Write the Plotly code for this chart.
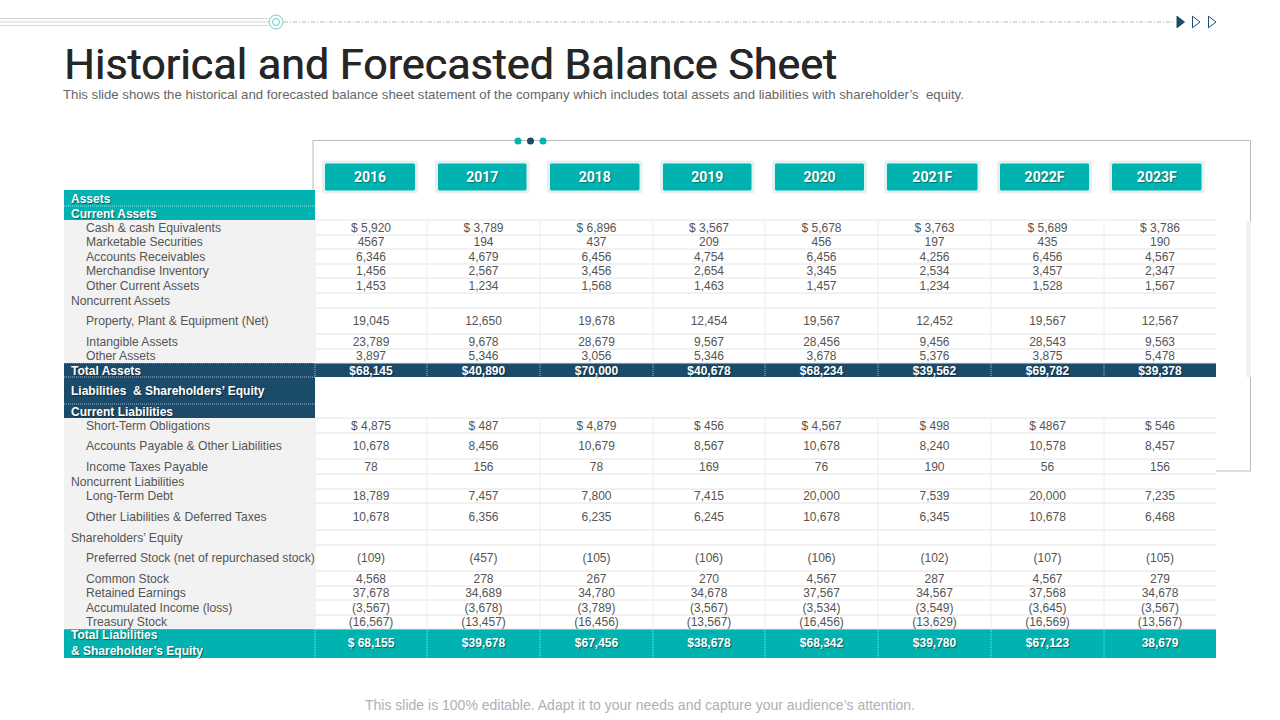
import plotly.graph_objects as go

TEAL = '#00B3B0'
NAVY = '#1B4B6B'
GRID = '#E4E4E4'
TEXT = '#555555'

years = ['2016', '2017', '2018', '2019', '2020', '2021F', '2022F', '2023F']

labels = ['Assets', 'Current Assets', 'Cash & cash Equivalents', 'Marketable Securities',
          'Accounts Receivables', 'Merchandise Inventory', 'Other Current Assets',
          'Noncurrent Assets', 'Property, Plant & Equipment (Net)', 'Intangible Assets',
          'Other Assets', 'Total Assets', 'Liabilities  & Shareholders\u2019 Equity',
          'Current Liabilities', 'Short-Term Obligations', 'Accounts Payable & Other Liabilities',
          'Income Taxes Payable', 'Noncurrent Liabilities', 'Long-Term Debt',
          'Other Liabilities & Deferred Taxes', 'Shareholders\u2019 Equity',
          'Preferred Stock (net of repurchased stock)', 'Common Stock', 'Retained Earnings',
          'Accumulated Income (loss)', 'Treasury Stock',
          'Total Liabilities<br>& Shareholder\u2019s Equity']

v2016 = ['', '', '$ 5,920', '4567', '6,346', '1,456', '1,453', '', '19,045', '23,789', '3,897', '$68,145',
         '', '', '$ 4,875', '10,678', '78', '', '18,789', '10,678', '', '(109)', '4,568', '37,678',
         '(3,567)', '(16,567)', '$ 68,155']
v2017 = ['', '', '$ 3,789', '194', '4,679', '2,567', '1,234', '', '12,650', '9,678', '5,346', '$40,890',
         '', '', '$ 487', '8,456', '156', '', '7,457', '6,356', '', '(457)', '278', '34,689',
         '(3,678)', '(13,457)', '$39,678']
v2018 = ['', '', '$ 6,896', '437', '6,456', '3,456', '1,568', '', '19,678', '28,679', '3,056', '$70,000',
         '', '', '$ 4,879', '10,679', '78', '', '7,800', '6,235', '', '(105)', '267', '34,780',
         '(3,789)', '(16,456)', '$67,456']
v2019 = ['', '', '$ 3,567', '209', '4,754', '2,654', '1,463', '', '12,454', '9,567', '5,346', '$40,678',
         '', '', '$ 456', '8,567', '169', '', '7,415', '6,245', '', '(106)', '270', '34,678',
         '(3,567)', '(13,567)', '$38,678']
v2020 = ['', '', '$ 5,678', '456', '6,456', '3,345', '1,457', '', '19,567', '28,456', '3,678', '$68,234',
         '', '', '$ 4,567', '10,678', '76', '', '20,000', '10,678', '', '(106)', '4,567', '37,567',
         '(3,534)', '(16,456)', '$68,342']
v2021 = ['', '', '$ 3,763', '197', '4,256', '2,534', '1,234', '', '12,452', '9,456', '5,376', '$39,562',
         '', '', '$ 498', '8,240', '190', '', '7,539', '6,345', '', '(102)', '287', '34,567',
         '(3,549)', '(13,629)', '$39,780']
v2022 = ['', '', '$ 5,689', '435', '6,456', '3,457', '1,528', '', '19,567', '28,543', '3,875', '$69,782',
         '', '', '$ 4867', '10,578', '56', '', '20,000', '10,678', '', '(107)', '4,567', '37,568',
         '(3,645)', '(16,569)', '$67,123']
v2023 = ['', '', '$ 3,786', '190', '4,567', '2,347', '1,567', '', '12,567', '9,563', '5,478', '$39,378',
         '', '', '$ 546', '8,457', '156', '', '7,235', '6,468', '', '(105)', '279', '34,678',
         '(3,567)', '(13,567)', '38,679']
columns = [v2016, v2017, v2018, v2019, v2020, v2021, v2022, v2023]

# layout of the table, in slide pixels
row_edges = [190, 206, 220, 235, 249, 264, 278, 293, 308, 334, 349, 363, 377, 404, 418, 433, 459,
             474, 489, 503, 530, 545, 571, 586, 600, 615, 629, 658]
col_edges = [315, 427, 540, 653, 765, 878, 991, 1104, 1216]
button_left = [324.5, 437.5, 549.5, 662.5, 774.5, 886.5, 999.5, 1111.5]
button_right = [415.5, 527, 640, 752, 864.5, 978, 1089.5, 1202]

TOTAL_NAVY = 11
TOTAL_TEAL = 26
teal_heads = [0, 1]
navy_heads = [12, 13]
section_rows = [7, 17, 20]
n = len(labels)
mid = [(row_edges[i] + row_edges[i + 1]) / 2 for i in range(n)]
heights = [row_edges[i + 1] - row_edges[i] for i in range(n)]
col_mid = [(col_edges[i] + col_edges[i + 1]) / 2 for i in range(8)]
# text sits a little under the centre of its row on the slide
text_y = [m + 1.2 for m in mid]
bold_y = [m + 1.6 for m in mid]
bold_y[TOTAL_TEAL] = mid[TOTAL_TEAL] + 0.8

fig = go.Figure()


def band(rows, x0, x1, color):
    fig.add_trace(go.Bar(y=[mid[i] for i in rows], x=[x1 - x0] * len(rows), base=x0,
                         width=[heights[i] for i in rows], orientation='h',
                         marker=dict(color=color, line_width=0), hoverinfo='skip'))


def lines(xs, ys, color, width=1, dash='solid'):
    fig.add_trace(go.Scatter(x=xs, y=ys, mode='lines', hoverinfo='skip',
                             line=dict(color=color, width=width, dash=dash)))


def texts(xs, ys, strs, color, size=12, bold=False, pos='middle center', shadow='none', family='Liberation Sans'):
    fig.add_trace(go.Scatter(x=xs, y=ys, text=strs, mode='text', textposition=pos, hoverinfo='skip',
                             textfont=dict(family=family, size=size, color=color,
                                           weight='bold' if bold else 'normal', shadow=shadow)))


def round_rect(x0, y0, x1, y1, r):
    return (f'M {x0 + r} {y0} L {x1 - r} {y0} Q {x1} {y0} {x1} {y0 + r} L {x1} {y1 - r} Q {x1} {y1} {x1 - r} {y1} '
            f'L {x0 + r} {y1} Q {x0} {y1} {x0} {y1 - r} L {x0} {y0 + r} Q {x0} {y0} {x0 + r} {y0} Z')


# label column and coloured rows
plain = [i for i in range(n) if i not in teal_heads + navy_heads + [TOTAL_NAVY, TOTAL_TEAL]]
band(plain, 64, 315, '#F2F2F2')
band(teal_heads, 64, 315, TEAL)
band(navy_heads, 64, 315, NAVY)
band([TOTAL_NAVY], 64, 1216, NAVY)
band([TOTAL_TEAL], 64, 1216, TEAL)

# grid
xs, ys = [], []
for i in range(2, n):
    if i not in (12, 13, 14, TOTAL_TEAL):
        xs += [315, 1216, None]
        ys += [row_edges[i], row_edges[i], None]
for y in (row_edges[14], row_edges[26]):
    xs += [315, 1216, None]
    ys += [y, y, None]
lines(xs, ys, GRID)

xs, ys = [], []
for x in col_edges[:-1]:
    for top, bottom in ((220, 363), (418, 629)):
        xs += [x, x, None]
        ys += [top, bottom, None]
lines(xs, ys, '#EEEEEE')

# white dotted separators in coloured rows
xs, ys = [], []
for x in col_edges[:-1]:
    for top, bottom in ((363, 377), (629, 658)):
        xs += [x, x, None]
        ys += [top, bottom, None]
for y in (206, 377, 404, 363, 629):
    xs += [64, 315, None]
    ys += [y, y, None]
lines(xs, ys, 'rgba(255,255,255,0.6)', width=1, dash='1px,1px')

# row labels
indent = [i for i in range(n) if i not in teal_heads + navy_heads + section_rows + [TOTAL_NAVY, TOTAL_TEAL]]
texts([86] * len(indent), [text_y[i] for i in indent], [labels[i] for i in indent], TEXT, size=12.15,
      pos='middle right')
texts([71] * len(section_rows), [text_y[i] for i in section_rows], [labels[i] for i in section_rows], TEXT,
      size=12.15, pos='middle right')
head_rows = teal_heads + navy_heads + [TOTAL_NAVY, TOTAL_TEAL]
texts([71] * len(head_rows), [bold_y[i] for i in head_rows], [labels[i] for i in head_rows], 'white', bold=True,
      pos='middle right', shadow='1px 1px 1px rgba(0,0,0,0.45)')

# values
for c, values in enumerate(columns):
    plain_rows = [i for i in range(n) if values[i] and i not in (TOTAL_NAVY, TOTAL_TEAL)]
    texts([col_mid[c]] * len(plain_rows), [text_y[i] for i in plain_rows], [values[i] for i in plain_rows], TEXT)
    texts([col_mid[c]] * 2, [bold_y[TOTAL_NAVY], bold_y[TOTAL_TEAL]], [values[TOTAL_NAVY], values[TOTAL_TEAL]],
          'white', bold=True, shadow='1px 1px 1px rgba(0,0,0,0.45)')

# frame around the table: top, left and right sides, bottom stub
lines([313, 313, None, 313, 1250.5, 1250.5, None, 1250.5, 1250.5, 1216],
      [190, 140.5, None, 140.5, 140.5, 222, None, 377, 471, 471], '#BBBBBB')
stripe_y = list(range(222, 378, 2))
xs, ys = [], []
for y in stripe_y:
    xs += [1246, 1251, None]
    ys += [y, y, None]
lines(xs, ys, '#E2E2E2')

# dots on the frame
fig.add_trace(go.Scatter(x=[518, 530.5, 543], y=[141, 141, 141], mode='markers', hoverinfo='skip',
                         marker=dict(size=7, color=[TEAL, NAVY, TEAL], line_width=0)))

# year buttons
shapes = []
for x0, x1 in zip(button_left, button_right):
    shapes.append(dict(type='path', xref='x', yref='y', path=round_rect(x0 - 2.5, 160.5, x1 + 2.5, 193.5, 3),
                       fillcolor='rgba(0,110,110,0.10)', line_width=0, layer='below'))
    shapes.append(dict(type='path', xref='x', yref='y', path=round_rect(x0, 163, x1, 191, 2),
                       fillcolor=TEAL, line=dict(color='#DDF3F3', width=1), layer='below'))
texts([(a + b) / 2 for a, b in zip(button_left, button_right)], [178.5] * 8, years, 'white', size=14, bold=True,
      family='Roboto', shadow='1px 1px 1px rgba(0,0,0,0.35)')

# top rule and arrows
lines([0, 268, None, 0, 268, None, 0, 268], [18.5, 18.5, None, 22, 22, None, 25.5, 25.5], '#D5D5D5')
lines([284, 1175], [22, 22], '#A9BDBD', dash='4px,2px,1px,2px')
fig.add_trace(go.Scatter(x=[276, 276], y=[22, 22], mode='markers', hoverinfo='skip',
                         marker=dict(size=[14, 7], color='rgba(0,0,0,0)', line=dict(color='#2FB5B5', width=1))))
fig.add_trace(go.Scatter(x=[1179.5, 1195, 1211], y=[22, 22, 22], mode='markers', hoverinfo='skip',
                         marker=dict(size=10, symbol='triangle-right', color=[NAVY, 'white', 'white'],
                                     line=dict(color=NAVY, width=1))))

annotations = [
    dict(text='Historical and Forecasted Balance Sheet', x=62, y=64, xanchor='left', yanchor='middle', showarrow=False,
         xref='x', yref='y', font=dict(family='Roboto', size=43, color='#262626', shadow='0.6px 0 0 #262626')),
    dict(text='This slide shows the historical and forecasted balance sheet statement of the company which includes '
              'total assets and liabilities with shareholder\u2019s  equity.',
         x=61, y=94.5, xanchor='left', yanchor='middle', showarrow=False, xref='x', yref='y',
         font=dict(family='Liberation Sans', size=13.2, color='#666666')),
    dict(text='This slide is 100% editable. Adapt it to your needs and capture your audience\u2019s attention.',
         x=640, y=705, xanchor='center', yanchor='middle', showarrow=False, xref='x', yref='y',
         font=dict(family='Liberation Sans', size=14, color='#B0B0B0')),
]

fig.update_layout(width=1280, height=720, margin=dict(l=0, r=0, t=0, b=0), showlegend=False,
                  paper_bgcolor='white', plot_bgcolor='white', barmode='overlay', shapes=shapes,
                  annotations=annotations,
                  xaxis=dict(range=[0, 1280], visible=False, fixedrange=True),
                  yaxis=dict(range=[720, 0], visible=False, fixedrange=True))

# browser default body margin would push the slide 8px off
fig.write_html("out.html", config={'displayModeBar': False},
               post_script="document.body.style.margin='0';document.body.style.overflow='hidden';")
